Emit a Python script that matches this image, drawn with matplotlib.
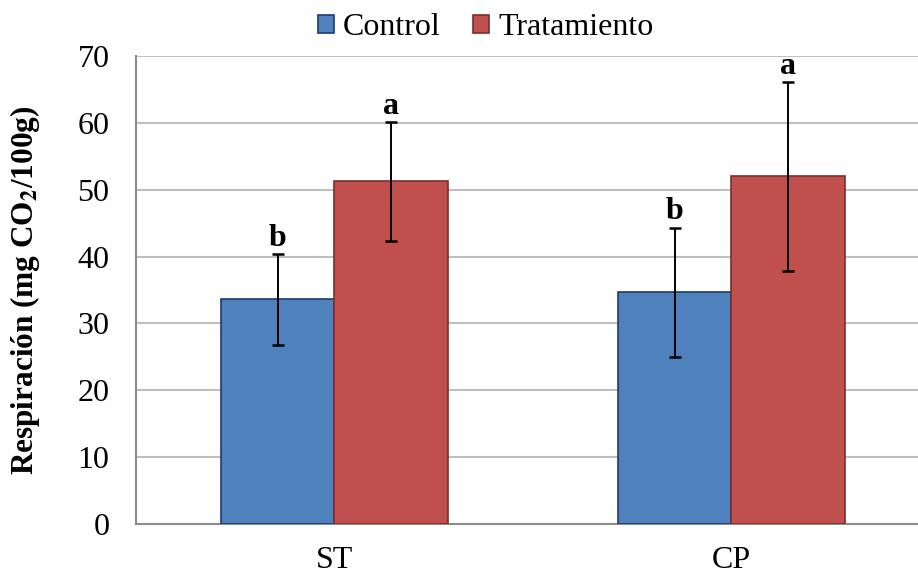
import numpy as np
import matplotlib
matplotlib.use('Agg')
import matplotlib.pyplot as plt

plt.rcParams['font.family'] = ['Liberation Serif', 'DejaVu Serif']
plt.rcParams['mathtext.fontset'] = 'stix'

# ── Data ────────────────────────────────────────────────────────────────────
categories = ['ST', 'CP']
control = [33.6, 34.7]
control_lo = [26.7, 25.0]
control_hi = [40.4, 44.3]
tratamiento = [51.3, 52.0]
trat_lo = [42.4, 37.8]
trat_hi = [60.1, 66.1]
letters_control = ['b', 'b']
letters_trat = ['a', 'a']

# ── Figure ──────────────────────────────────────────────────────────────────
fig = plt.figure(figsize=(9.18, 5.76), dpi=100)
ax = fig.add_axes([0.148, 0.0903, 0.865, 0.8125])

x = np.arange(len(categories))
w = 0.286
ctrl = np.array(control)
trat = np.array(tratamiento)

ax.bar(x - w / 2, ctrl, w, color='#4F81BD', edgecolor='#1F3A6E', lw=1.2,
       label='Control', zorder=3)
ax.bar(x + w / 2, trat, w, color='#C0504D', edgecolor='#7A2E2C', lw=1.2,
       label='Tratamiento', zorder=3)

err_c = [ctrl - np.array(control_lo), np.array(control_hi) - ctrl]
err_t = [trat - np.array(trat_lo), np.array(trat_hi) - trat]
ax.errorbar(x - w / 2, ctrl, yerr=err_c, fmt='none', ecolor='black',
            elinewidth=1.4, capsize=4.5, capthick=1.8, zorder=4)
ax.errorbar(x + w / 2, trat, yerr=err_t, fmt='none', ecolor='black',
            elinewidth=1.4, capsize=4.5, capthick=1.8, zorder=4)

for xi, top, lab in zip(x - w / 2, control_hi, letters_control):
    ax.text(xi, top + 0.2, lab, ha='center', va='bottom', fontsize=23,
            fontweight='bold', zorder=5)
for xi, top, lab in zip(x + w / 2, trat_hi, letters_trat):
    ax.text(xi, top + 0.2, lab, ha='center', va='bottom', fontsize=23,
            fontweight='bold', zorder=5)

ax.set_xlim(-0.5, 1.5)
ax.set_ylim(0, 70)
ax.set_yticks(np.arange(0, 71, 10))
ax.set_xticks(x)
ax.set_xticklabels(categories)
ax.tick_params(axis='both', length=0, labelsize=23)
ax.tick_params(axis='y', pad=19)
ax.tick_params(axis='x', pad=16)
ax.grid(axis='y', color='#BFBFBF', lw=1.5, zorder=0)
ax.set_axisbelow(True)
for s in ['top', 'right']:
    ax.spines[s].set_visible(False)
for s in ['left', 'bottom']:
    ax.spines[s].set_color('#8C8C8C')
    ax.spines[s].set_linewidth(1.5)

ax.set_ylabel(r'Respiración (mg CO$_\mathbf{2}$/100g)', fontsize=22.5,
              fontweight='bold')
ax.yaxis.set_label_coords(-0.118, 0.5)

fig.legend(loc='center', bbox_to_anchor=(0.529, 0.952), ncol=2,
           frameon=False, fontsize=23, handlelength=0.5, handleheight=0.5,
           handletextpad=0.3, columnspacing=1.0, borderpad=0.1)

fig.savefig('out.png', dpi=100)
